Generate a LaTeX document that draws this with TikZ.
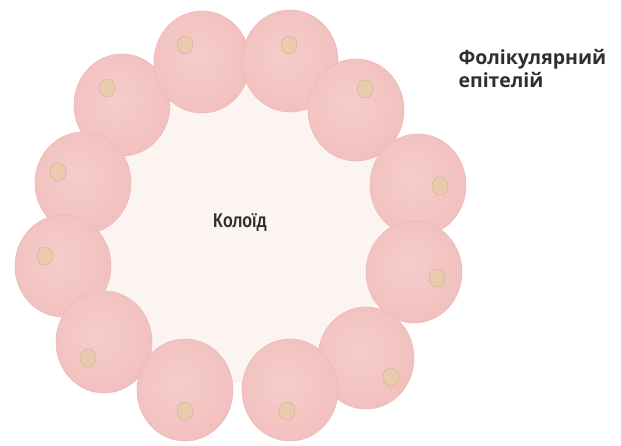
\documentclass[tikz,border=0pt]{standalone}
\usepackage{fontspec}
\setmainfont{Open Sans}
\newfontfamily\narrowfont{Liberation Sans}
\usetikzlibrary{shapes.geometric}
\definecolor{cellin}{HTML}{F5CDCB}
\definecolor{cellmid}{HTML}{F1C0BE}
\definecolor{cellout}{HTML}{E6A9A7}
\definecolor{nucfill}{HTML}{EACBAE}
\definecolor{nucedge}{HTML}{D6B19A}
\definecolor{colloid}{HTML}{FBF4F0}
\definecolor{labeltext}{HTML}{2E2E2E}
\pgfdeclareradialshading{cellshade}{\pgfpoint{-4bp}{4bp}}{%
  color(0bp)=(cellin); color(28bp)=(cellmid); color(46bp)=(cellout); color(50bp)=(cellout)}
\tikzset{
  cell/.style={ellipse, minimum width=96pt, minimum height=102pt, inner sep=0pt,
    shading=cellshade, draw=cellout!80!white, line width=0.6pt},
  nucleus/.style={ellipse, minimum width=16pt, minimum height=18pt, inner sep=0pt,
    fill=nucfill, draw=nucedge, line width=0.5pt},
  caption/.style={text=labeltext, font=\fontsize{19.5}{23}\selectfont\bfseries, align=left, anchor=north west},
}
\begin{document}
\begin{tikzpicture}[x=1pt, y=-1pt]
  \useasboundingbox (0,0) rectangle (621,446);
  % colloid filling the follicle lumen
  \node[circle, fill=colloid, minimum size=310pt, inner sep=0pt] (lumen) at (240,228) {};
  % follicular cells with their nuclei
  \foreach \n/\x/\y/\nx/\ny in {
      c/122/105/107/88, a/202/62/185/45, b/290/61/289/45, d/356/110/365/89,
      e/83/183/58/172, f/418/185/440/186, g/63/266/45/256, h/414/272/437/278,
      i/104/342/88/358, j/366/358/391/377, k/185/390/185/411, l/290/390/287/411} {
    \node[cell] (cell-\n) at (\x,\y) {};
    \node[nucleus] (nuc-\n) at (\nx,\ny) {};
  }
  \node[text=labeltext, font=\narrowfont\fontsize{20}{24}\selectfont\bfseries] (colloidlabel) at (240,223) {\scalebox{0.8}[1]{Колоїд}};
  \node[caption] (epilabel) at (455,46) {Фолікулярний\\епітелій};
\end{tikzpicture}
\end{document}
